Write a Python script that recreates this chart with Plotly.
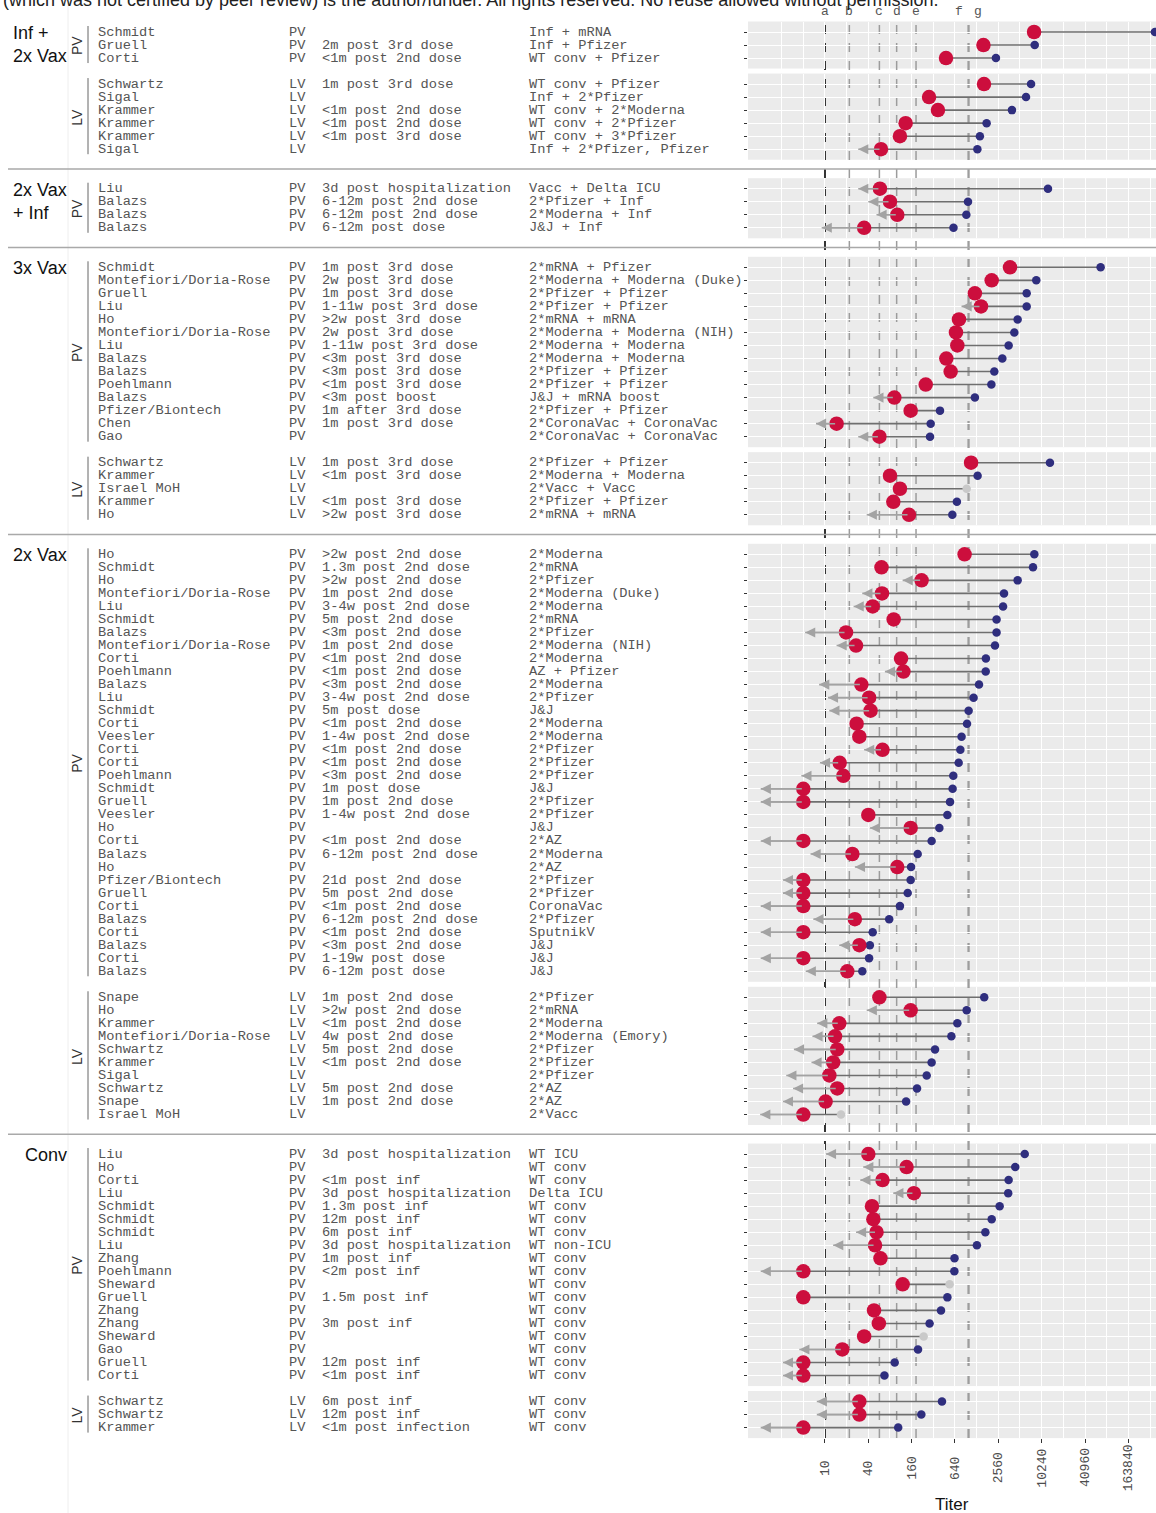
import math
import plotly.graph_objects as go
from plotly.subplots import make_subplots

# ---------------- data ----------------
group = (["Inf +<br>2x Vax"] * 9 + ["2x Vax<br>+ Inf"] * 4 + ["3x Vax"] * 19
         + ["2x Vax"] * 43 + ["Conv"] * 21)
assay = (["PV"] * 3 + ["LV"] * 6 + ["PV"] * 4 + ["PV"] * 14 + ["LV"] * 5
         + ["PV"] * 33 + ["LV"] * 10 + ["PV"] * 18 + ["LV"] * 3)

author = [
    "Schmidt", "Gruell", "Corti",
    "Schwartz", "Sigal", "Krammer", "Krammer", "Krammer", "Sigal",
    "Liu", "Balazs", "Balazs", "Balazs",
    "Schmidt", "Montefiori/Doria-Rose", "Gruell", "Liu", "Ho", "Montefiori/Doria-Rose", "Liu",
    "Balazs", "Balazs", "Poehlmann", "Balazs", "Pfizer/Biontech", "Chen", "Gao",
    "Schwartz", "Krammer", "Israel MoH", "Krammer", "Ho",
    "Ho", "Schmidt", "Ho", "Montefiori/Doria-Rose", "Liu", "Schmidt", "Balazs",
    "Montefiori/Doria-Rose", "Corti", "Poehlmann", "Balazs", "Liu", "Schmidt", "Corti",
    "Veesler", "Corti", "Corti", "Poehlmann", "Schmidt", "Gruell", "Veesler", "Ho", "Corti",
    "Balazs", "Ho", "Pfizer/Biontech", "Gruell", "Corti", "Balazs", "Corti", "Balazs",
    "Corti", "Balazs",
    "Snape", "Ho", "Krammer", "Montefiori/Doria-Rose", "Schwartz", "Krammer", "Sigal",
    "Schwartz", "Snape", "Israel MoH",
    "Liu", "Ho", "Corti", "Liu", "Schmidt", "Schmidt", "Schmidt", "Liu", "Zhang",
    "Poehlmann", "Sheward", "Gruell", "Zhang", "Zhang", "Sheward", "Gao", "Gruell", "Corti",
    "Schwartz", "Schwartz", "Krammer",
]

timing = [
    "", "2m post 3rd dose", "<1m post 2nd dose",
    "1m post 3rd dose", "", "<1m post 2nd dose", "<1m post 2nd dose", "<1m post 3rd dose", "",
    "3d post hospitalization", "6-12m post 2nd dose", "6-12m post 2nd dose", "6-12m post dose",
    "1m post 3rd dose", "2w post 3rd dose", "1m post 3rd dose", "1-11w post 3rd dose",
    ">2w post 3rd dose", "2w post 3rd dose", "1-11w post 3rd dose", "<3m post 3rd dose",
    "<3m post 3rd dose", "<1m post 3rd dose", "<3m post boost", "1m after 3rd dose",
    "1m post 3rd dose", "",
    "1m post 3rd dose", "<1m post 3rd dose", "", "<1m post 3rd dose", ">2w post 3rd dose",
    ">2w post 2nd dose", "1.3m post 2nd dose", ">2w post 2nd dose", "1m post 2nd dose",
    "3-4w post 2nd dose", "5m post 2nd dose", "<3m post 2nd dose", "1m post 2nd dose",
    "<1m post 2nd dose", "<1m post 2nd dose", "<3m post 2nd dose", "3-4w post 2nd dose",
    "5m post dose", "<1m post 2nd dose", "1-4w post 2nd dose", "<1m post 2nd dose",
    "<1m post 2nd dose", "<3m post 2nd dose", "1m post dose", "1m post 2nd dose",
    "1-4w post 2nd dose", "", "<1m post 2nd dose", "6-12m post 2nd dose", "",
    "21d post 2nd dose", "5m post 2nd dose", "<1m post 2nd dose", "6-12m post 2nd dose",
    "<1m post 2nd dose", "<3m post 2nd dose", "1-19w post dose", "6-12m post dose",
    "1m post 2nd dose", ">2w post 2nd dose", "<1m post 2nd dose", "4w post 2nd dose",
    "5m post 2nd dose", "<1m post 2nd dose", "", "5m post 2nd dose", "1m post 2nd dose", "",
    "3d post hospitalization", "", "<1m post inf", "3d post hospitalization", "1.3m post inf",
    "12m post inf", "6m post inf", "3d post hospitalization", "1m post inf", "<2m post inf",
    "", "1.5m post inf", "", "3m post inf", "", "", "12m post inf", "<1m post inf",
    "6m post inf", "12m post inf", "<1m post infection",
]

regimen = [
    "Inf + mRNA", "Inf + Pfizer", "WT conv + Pfizer",
    "WT conv + Pfizer", "Inf + 2*Pfizer", "WT conv + 2*Moderna", "WT conv + 2*Pfizer",
    "WT conv + 3*Pfizer", "Inf + 2*Pfizer, Pfizer",
    "Vacc + Delta ICU", "2*Pfizer + Inf", "2*Moderna + Inf", "J&J + Inf",
    "2*mRNA + Pfizer", "2*Moderna + Moderna (Duke)", "2*Pfizer + Pfizer", "2*Pfizer + Pfizer",
    "2*mRNA + mRNA", "2*Moderna + Moderna (NIH)", "2*Moderna + Moderna", "2*Moderna + Moderna",
    "2*Pfizer + Pfizer", "2*Pfizer + Pfizer", "J&J + mRNA boost", "2*Pfizer + Pfizer",
    "2*CoronaVac + CoronaVac", "2*CoronaVac + CoronaVac",
    "2*Pfizer + Pfizer", "2*Moderna + Moderna", "2*Vacc + Vacc", "2*Pfizer + Pfizer",
    "2*mRNA + mRNA",
    "2*Moderna", "2*mRNA", "2*Pfizer", "2*Moderna (Duke)", "2*Moderna", "2*mRNA", "2*Pfizer",
    "2*Moderna (NIH)", "2*Moderna", "AZ + Pfizer", "2*Moderna", "2*Pfizer", "J&J",
    "2*Moderna", "2*Moderna", "2*Pfizer", "2*Pfizer", "2*Pfizer", "J&J", "2*Pfizer",
    "2*Pfizer", "J&J", "2*AZ", "2*Moderna", "2*AZ", "2*Pfizer", "2*Pfizer", "CoronaVac",
    "2*Pfizer", "SputnikV", "J&J", "J&J", "J&J",
    "2*Pfizer", "2*mRNA", "2*Moderna", "2*Moderna (Emory)", "2*Pfizer", "2*Pfizer",
    "2*Pfizer", "2*AZ", "2*AZ", "2*Vacc",
    "WT ICU", "WT conv", "WT conv", "Delta ICU", "WT conv", "WT conv", "WT conv",
    "WT non-ICU", "WT conv", "WT conv", "WT conv", "WT conv", "WT conv", "WT conv",
    "WT conv", "WT conv", "WT conv", "WT conv",
    "WT conv", "WT conv", "WT conv",
]

# Omicron titer (red), WT titer (blue), lower-bound arrow tip (None = no arrow)
omicron = [
    8030, 1590, 480,
    1620, 279, 371, 132, 110, 60,
    58, 80, 101, 35,
    3720, 2070, 1210, 1470, 727, 660, 690, 485, 557, 251, 92, 155, 14.5, 57,
    1070, 80, 110, 89, 147,
    870, 61, 220, 62, 46, 90, 19.6, 27, 114, 123, 32, 41, 43, 27.5, 30, 63, 16, 18,
    5, 5, 40, 155, 5, 24, 101, 5, 5, 5, 26, 5, 30, 5, 20.4,
    57, 155, 15.8, 13.8, 14.8, 13, 11.5, 14.8, 10.2, 5,
    40, 136, 63, 172, 45, 47, 52, 49.6, 59, 5, 120, 5, 48, 56, 35, 17.4, 5, 5,
    30, 30, 5,
]
wt = [
    384000, 8200, 2370,
    7290, 6210, 3960, 1760, 1420, 1310,
    12530, 970, 920, 610,
    67500, 8620, 6340, 6340, 4750, 4270, 3560, 2910, 2250, 2050, 1210, 396, 294, 288,
    13350, 1320, 930, 680, 588,
    8100, 7760, 4750, 3070, 2980, 2420, 2420, 2300, 1720, 1710, 1380, 1160, 990, 940,
    790, 760, 720, 606, 593, 546, 502, 388, 303, 194, 157, 155, 141, 110, 78, 46, 42, 41, 33,
    1630, 930, 690, 570, 338, 303, 259, 190, 134, 16.7,
    5960, 4400, 3560, 3510, 2670, 2070, 1690, 1290, 630, 627, 539, 502, 409, 284, 235,
    196, 93, 67,
    422, 218, 104,
]
lower = [
    None, None, None,
    None, None, None, None, None, 29,
    29, 40, 52, 9,
    None, None, None, 790, None, None, None, None, None, None, 47, None, 7.5, 29,
    None, None, None, None, 38,
    None, None, 120, 33, 25, None, 5.3, 14.5, None, 68, 8.3, 11, 11.5, None, None, 35,
    8.5, 4.7, 1.28, 1.28, None, 42, 1.28, 6.3, 26, 2.6, 2.6, 1.28, 6.9, 1.28, 15.8, 1.28, 5.4,
    None, 38, 7.8, 6.7, 3.7, 6.5, 2.9, 3.6, 2.6, 1.26,
    10.3, 34, 31, 89, None, None, 27, 13, None, 1.28, None, None, None, None, None,
    4.4, 2.6, 2.6,
    7.7, 7.7, 1.28,
]
# 1 = WT value drawn in light grey
wt_grey = [
    0, 0, 0,
    0, 0, 0, 0, 0, 0,
    0, 0, 0, 0,
    0, 0, 0, 0, 0, 0, 0, 0, 0, 0, 0, 0, 0, 0,
    0, 0, 1, 0, 0,
    0, 0, 0, 0, 0, 0, 0, 0, 0, 0, 0, 0, 0, 0, 0, 0, 0, 0, 0, 0, 0, 0, 0, 0, 0, 0, 0, 0,
    0, 0, 0, 0, 0,
    0, 0, 0, 0, 0, 0, 0, 0, 0, 1,
    0, 0, 0, 0, 0, 0, 0, 0, 0, 0, 1, 0, 0, 0, 1, 0, 0, 0,
    0, 0, 0,
]

ref_names = ["a", "b", "c", "d", "e", "f", "g"]
ref_values = [10, 21.8, 57, 99, 184, 975, 1000]

x_ticks = [10, 40, 160, 640, 2560, 10240, 40960, 163840]
x_minor = [2.5, 5, 20, 80, 320, 1280, 5120, 20480, 81920, 327680]
x_range = [0.852, 397000]

title_text = ("(which was not certified by peer review) is the author/funder. "
              "All rights reserved. No reuse allowed without permission.")

# ---------------- layout geometry (pixels) ----------------
W, H = 1156, 1513
ROW = 13.03
PAD = 10.5
GAP_IN = 5
GAP_GRP = 18.5
TOP = 21.5
PLOT_L = 748

MONO = "Liberation Mono, Courier New, monospace"
SANS = "Liberation Sans, Arial, sans-serif"
RED = "#CC0E3D"
BLUE = "#2F2E7E"
GREYDOT = "#C9C9C9"

panels = []
for i, (g, a) in enumerate(zip(group, assay)):
    if not panels or panels[-1][0] != g or panels[-1][1] != a:
        panels.append([g, a, i, 0])
    panels[-1][3] += 1

geo = []
separators = []
y = TOP
prev = None
for g, a, s, n in panels:
    if prev is not None:
        if g == prev:
            y += GAP_IN
        else:
            separators.append(y + GAP_GRP / 2)
            y += GAP_GRP
    top = y
    bot = y + (n - 1) * ROW + 2 * PAD
    geo.append((top, bot))
    y = bot
    prev = g
BOTTOM = y


def py(p):
    return 1 - p / H


def px(p):
    return p / W


npan = len(panels)
fig = make_subplots(rows=npan, cols=1, shared_xaxes=True, vertical_spacing=0.0)

annotations = []
shapes = []

for k, (g, a, s, n) in enumerate(panels):
    r = k + 1
    xr = "x" if k == 0 else f"x{r}"
    yr = "y" if k == 0 else f"y{r}"
    idx = list(range(s, s + n))

    lx, ly = [], []
    dx, dy = [], []
    for j, i in enumerate(idx):
        if lower[i] is not None:
            lx += [lower[i], omicron[i], None]
            ly += [j, j, None]
        dx += [omicron[i], wt[i], None]
        dy += [j, j, None]
    if lx:
        fig.add_trace(go.Scatter(x=lx, y=ly, mode="lines",
                                 line=dict(color="#A3A3A3", width=1.6),
                                 hoverinfo="skip", showlegend=False), row=r, col=1)
    fig.add_trace(go.Scatter(x=dx, y=dy, mode="lines",
                             line=dict(color="#6F6F6F", width=1.6),
                             hoverinfo="skip", showlegend=False), row=r, col=1)
    fig.add_trace(go.Scatter(x=[wt[i] for i in idx], y=list(range(n)), mode="markers",
                             marker=dict(size=8.5,
                                         color=[GREYDOT if wt_grey[i] else BLUE for i in idx],
                                         line=dict(width=0)),
                             showlegend=False), row=r, col=1)
    fig.add_trace(go.Scatter(x=[omicron[i] for i in idx], y=list(range(n)), mode="markers",
                             marker=dict(size=14.5, color=RED, line=dict(width=0)),
                             showlegend=False), row=r, col=1)

    for j, i in enumerate(idx):
        if lower[i] is not None:
            annotations.append(dict(
                x=math.log10(lower[i]), y=j, xref=xr, yref=yr,
                ax=math.log10(omicron[i]), ay=j, axref=xr, ayref=yr,
                text="", showarrow=True, arrowhead=2, arrowsize=1.35,
                arrowwidth=1.5, arrowcolor="#A3A3A3", standoff=0))

    top, bot = geo[k]
    fig.layout[f"yaxis{'' if k == 0 else r}"].update(
        domain=[py(bot), py(top)],
        range=[n - 1 + PAD / ROW, -PAD / ROW],
        tickmode="array", tickvals=list(range(n)), showticklabels=False,
        ticks="outside", ticklen=3, tickwidth=1.2, tickcolor="#333333",
        showgrid=True, gridcolor="white", gridwidth=1.1, zeroline=False,
        showline=False, fixedrange=True)
    fig.layout[f"xaxis{'' if k == 0 else r}"].update(
        type="log", domain=[px(PLOT_L), 1],
        range=[math.log10(x_range[0]), math.log10(x_range[1])],
        tickmode="array", tickvals=x_ticks, showticklabels=False,
        ticks="outside" if k == npan - 1 else "", ticklen=4, tickwidth=1.2,
        tickcolor="#333333",
        showgrid=True, gridcolor="white", gridwidth=1.4,
        minor=dict(tickmode="array", tickvals=x_minor, showgrid=True,
                   gridcolor="white", gridwidth=0.8, ticks=""),
        zeroline=False, showline=False, fixedrange=True)

    for j, i in enumerate(idx):
        for colx, txt in ((96, author[i]), (287, assay[i]), (320, timing[i]),
                          (527, regimen[i])):
            if txt:
                annotations.append(dict(
                    x=px(colx), y=j, xref="paper", yref=yr, text=txt,
                    showarrow=False, xanchor="left", yanchor="middle",
                    font=dict(family=MONO, size=13.7, color="#555555")))

    rows_top = top + PAD
    rows_bot = bot - PAD
    annotations.append(dict(
        x=px(77), y=py((rows_top + rows_bot) / 2), xref="paper", yref="paper",
        text=a, textangle=-90, showarrow=False, xanchor="center", yanchor="middle",
        font=dict(family=SANS, size=14, color="#333333")))
    shapes.append(dict(type="line", xref="paper", yref="paper",
                       x0=px(88), x1=px(88), y0=py(rows_top - 6), y1=py(rows_bot + 5),
                       line=dict(color="#666666", width=1)))

    if k == 0 or panels[k - 1][0] != g:
        annotations.append(dict(
            x=px(69), y=py(top + PAD - 11), xref="paper", yref="paper",
            text=g, showarrow=False, xanchor="right", yanchor="top", align="left",
            font=dict(family=SANS, size=18, color="#111111")))

for sy in separators:
    shapes.append(dict(type="line", xref="paper", yref="paper",
                       x0=px(8), x1=1, y0=py(sy), y1=py(sy),
                       line=dict(color="#A9A9A9", width=1.5)))

shapes.append(dict(type="line", xref="paper", yref="paper", layer="below",
                   x0=px(68), x1=px(68), y0=0, y1=1,
                   line=dict(color="#EEEEEE", width=1)))

for nm, v in zip(ref_names, ref_values):
    shapes.append(dict(type="line", xref="x", yref="paper", layer="below",
                       x0=v, x1=v, y0=py(BOTTOM), y1=py(18),
                       line=dict(color="#333333" if nm == "a" else "#9C9C9C",
                                 width=2 if nm == "a" else 1.5, dash="dash")))
label_shift = {"f": -9, "g": 9}
for nm, v in zip(ref_names, ref_values):
    annotations.append(dict(x=math.log10(v), y=py(12), xref="x", yref="paper",
                            text=nm, showarrow=False, xanchor="center", yanchor="middle",
                            xshift=label_shift.get(nm, 0),
                            font=dict(family=MONO, size=13, color="#555555")))

last_x = f"x{npan}"
for v in x_ticks:
    annotations.append(dict(x=math.log10(v), y=py(1468), xref=last_x, yref="paper",
                            text=str(v), textangle=-90, showarrow=False,
                            xanchor="center", yanchor="middle",
                            font=dict(family=MONO, size=13, color="#4D4D4D")))
annotations.append(dict(x=px((PLOT_L + W) / 2), y=py(1504), xref="paper", yref="paper",
                        text="Titer", showarrow=False, xanchor="center", yanchor="middle",
                        font=dict(family=SANS, size=17, color="#111111")))

annotations.append(dict(x=px(1), y=py(0), xref="paper", yref="paper", text=title_text,
                        showarrow=False, xanchor="left", yanchor="middle",
                        font=dict(family=SANS, size=18, color="#222222")))

fig.update_layout(width=W, height=H, margin=dict(l=0, r=0, t=0, b=0),
                  plot_bgcolor="#EBEBEB", paper_bgcolor="white",
                  showlegend=False, annotations=annotations, shapes=shapes,
                  hovermode=False)

fig.write_html("out.html", config={"displayModeBar": False},
               post_script="document.body.style.margin='0px';")
